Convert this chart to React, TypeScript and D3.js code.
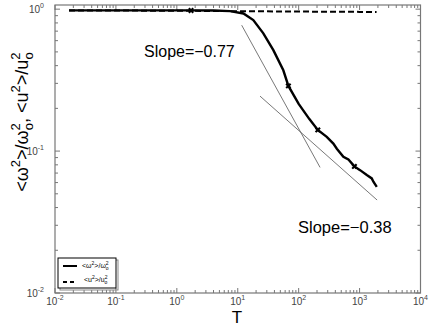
import React from 'react'
import * as d3 from 'd3'

// solid curve: <w^2>/w0^2
const solidT = [0.017, 0.1, 1, 1.71, 4, 7.5, 12.4, 18, 26.3, 38.4, 56, 67.8, 100, 150, 206, 289, 371, 423, 542, 655, 822, 1019, 1313, 1585, 1686, 1916]
const solidV = [0.98, 0.98, 0.98, 0.98, 0.978, 0.968, 0.933, 0.838, 0.675, 0.514, 0.371, 0.288, 0.215, 0.168, 0.141, 0.126, 0.113, 0.104, 0.0912, 0.0874, 0.078, 0.0734, 0.0678, 0.0642, 0.0608, 0.056]
const markT = [1.71, 67.8, 206, 822]
const markV = [0.98, 0.288, 0.141, 0.078]

// dashed curve: <u^2>/u0^2
const dashT = [0.017, 1, 10, 100, 1000, 1900]
const dashV = [0.98, 0.975, 0.968, 0.962, 0.957, 0.955]

// fitted slopes
const fit1T = [11.6, 224.6]
const fit1V = [0.771, 0.0767]
const fit2T = [23.2, 1938]
const fit2V = [0.244, 0.0452]

const xDecades = [-2, -1, 0, 1, 2, 3, 4]
const yDecades = [-2, -1, 0]

const W = 430, H = 327
const font = '"Liberation Sans", Arial, sans-serif'

export default function App() {
  const x = d3.scaleLog().domain([0.01, 10000]).range([55, 420.5])
  const y = d3.scaleLog().domain([0.01, 1.07]).range([293, 5])
  const [x0, x1] = x.range()
  const [y0, y1] = y.range()

  const lineGen = d3.line<[number, number]>().x(d => x(d[0])).y(d => y(d[1]))
  const solid = lineGen(solidT.map((t, i) => [t, solidV[i]]))
  const dashed = lineGen(dashT.map((t, i) => [t, dashV[i]]))
  const fit1 = lineGen(fit1T.map((t, i) => [t, fit1V[i]]))
  const fit2 = lineGen(fit2T.map((t, i) => [t, fit2V[i]]))
  const mark = d3.symbol(d3.symbolCross, 22)()

  // minor + major ticks
  const xTicks: { v: number; major: boolean }[] = []
  xDecades.forEach((d, i) => {
    xTicks.push({ v: Math.pow(10, d), major: true })
    if (i < xDecades.length - 1) for (let k = 2; k < 10; k++) xTicks.push({ v: k * Math.pow(10, d), major: false })
  })
  const yTicks: { v: number; major: boolean }[] = []
  yDecades.forEach(d => {
    yTicks.push({ v: Math.pow(10, d), major: true })
    for (let k = 2; k < 10; k++) {
      const v = k * Math.pow(10, d)
      if (v <= 1.07) yTicks.push({ v, major: false })
    }
  })

  const tc = '#777'
  return (
    <svg width={W} height={H} style={{ position: 'absolute', left: 0, top: 0, background: '#fff' }} fontFamily={font}>
      <rect x={0} y={0} width={W} height={H} fill="#fff" />
      {/* ticks */}
      {xTicks.map((t, i) => {
        const len = t.major ? 5 : 3
        return (
          <g key={'xt' + i} stroke={tc} strokeWidth={1}>
            <line x1={x(t.v)} x2={x(t.v)} y1={y0} y2={y0 - len} />
            <line x1={x(t.v)} x2={x(t.v)} y1={y1} y2={y1 + len} />
          </g>
        )
      })}
      {yTicks.map((t, i) => {
        const len = t.major ? 5 : 3
        return (
          <g key={'yt' + i} stroke={tc} strokeWidth={1}>
            <line x1={x0} x2={x0 + len} y1={y(t.v)} y2={y(t.v)} />
            <line x1={x1} x2={x1 - len} y1={y(t.v)} y2={y(t.v)} />
          </g>
        )
      })}
      <rect x={x0} y={y1} width={x1 - x0} height={y0 - y1} fill="none" stroke={tc} strokeWidth={1.2} />

      {/* tick labels */}
      {xDecades.map(d => (
        <text key={'xl' + d} x={x(Math.pow(10, d))} y={305} fontSize={10} fill="#444" textAnchor="middle">
          10<tspan dy={-5} fontSize={7}>{d}</tspan>
        </text>
      ))}
      {yDecades.map(d => (
        <text key={'yl' + d} x={44} y={y(Math.pow(10, d)) + 4} fontSize={10} fill="#444" textAnchor="end">
          10<tspan dy={-5} fontSize={7}>{d}</tspan>
        </text>
      ))}

      {/* fits */}
      <path d={fit1 || ''} fill="none" stroke="#555" strokeWidth={0.8} />
      <path d={fit2 || ''} fill="none" stroke="#555" strokeWidth={0.8} />

      {/* data */}
      <path d={dashed || ''} fill="none" stroke="#000" strokeWidth={2} strokeDasharray="6,3" />
      <path d={solid || ''} fill="none" stroke="#000" strokeWidth={2.4} />
      {markT.map((t, i) => (
        <path key={'m' + i} d={mark || ''} transform={`translate(${x(t)},${y(markV[i])}) rotate(45)`} fill="#000" />
      ))}

      {/* annotations */}
      <text x={144} y={57} fontSize={16} fill="#000">Slope=−0.77</text>
      <text x={298} y={233} fontSize={16.5} fill="#000">Slope=−0.38</text>

      {/* axis titles */}
      <text x={237} y={323} fontSize={17} textAnchor="middle" fill="#000">T</text>
      <text transform="translate(28,122) rotate(-90)" fontSize={18} textAnchor="middle" fill="#000">
        &lt;ω<tspan dy={-8} fontSize={13}>2</tspan><tspan dy={8}>&gt;/ω</tspan>
        <tspan dy={-8} fontSize={13}>2</tspan><tspan dx={-7} dy={13} fontSize={13}>o</tspan>
        <tspan dy={-5}>, &lt;u</tspan><tspan dy={-8} fontSize={13}>2</tspan><tspan dy={8}>&gt;/u</tspan>
        <tspan dy={-8} fontSize={13}>2</tspan><tspan dx={-7} dy={13} fontSize={13}>o</tspan>
      </text>

      {/* legend */}
      <rect x={60} y={260} width={58} height={30} fill="none" stroke="#888" strokeWidth={1} />
      <rect x={58} y={258} width={58} height={30} fill="#fff" stroke="#000" strokeWidth={1} />
      <line x1={63} x2={77} y1={266} y2={266} stroke="#000" strokeWidth={2} />
      <line x1={63} x2={77} y1={282} y2={282} stroke="#000" strokeWidth={2} strokeDasharray="4,3" />
      <text x={82} y={268} fontSize={7} fill="#000">
        &lt;ω<tspan dy={-3} fontSize={5}>2</tspan><tspan dy={3}>&gt;/ω</tspan><tspan dy={-3} fontSize={5}>2</tspan><tspan dx={-3} dy={5} fontSize={5}>o</tspan>
      </text>
      <text x={84} y={282} fontSize={7} fill="#000">
        &lt;u<tspan dy={-3} fontSize={5}>2</tspan><tspan dy={3}>&gt;/u</tspan><tspan dy={-3} fontSize={5}>2</tspan><tspan dx={-3} dy={5} fontSize={5}>o</tspan>
      </text>
    </svg>
  )
}
